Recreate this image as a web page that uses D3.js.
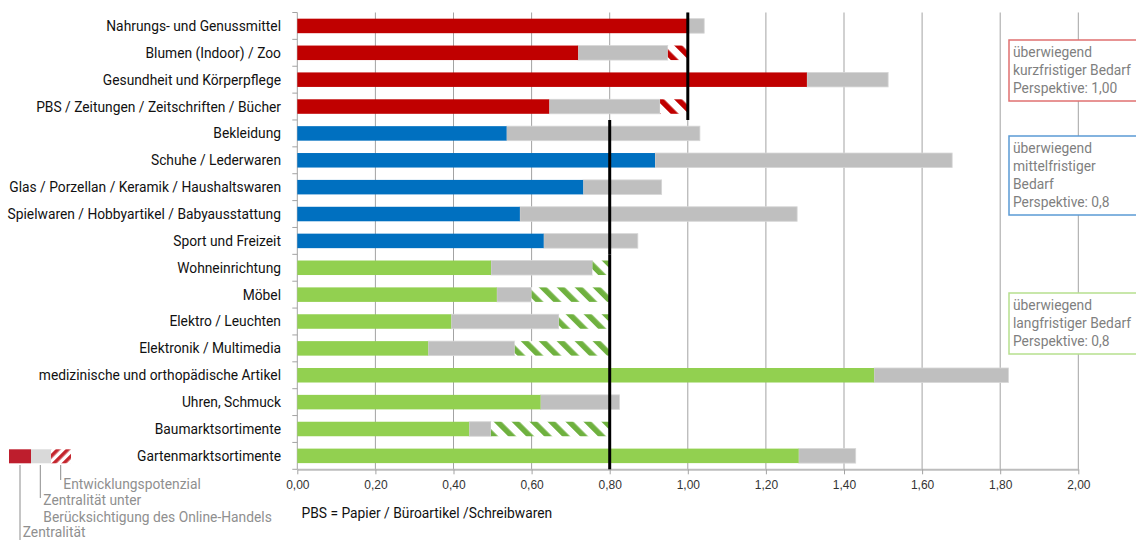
<!DOCTYPE html>
<html>
<head>
<meta charset="utf-8">
<script src="https://cdn.jsdelivr.net/npm/d3@7"></script>
<style>
  body { margin: 0; background: #fff; }
  text { font-family: Roboto, "Liberation Sans", sans-serif; }
</style>
</head>
<body>
<div class="viz"></div>
<script>
const w = 1136;
const h = 540;

// data
const categories = [
    "Nahrungs- und Genussmittel",
    "Blumen (Indoor) / Zoo",
    "Gesundheit und Körperpflege",
    "PBS / Zeitungen / Zeitschriften / Bücher",
    "Bekleidung",
    "Schuhe / Lederwaren",
    "Glas / Porzellan / Keramik / Haushaltswaren ",
    "Spielwaren / Hobbyartikel / Babyausstattung",
    "Sport und Freizeit",
    "Wohneinrichtung",
    "Möbel",
    "Elektro / Leuchten",
    "Elektronik / Multimedia",
    "medizinische und orthopädische Artikel",
    "Uhren, Schmuck",
    "Baumarktsortimente",
    "Gartenmarktsortimente"
];
const bedarf = ["kurz", "kurz", "kurz", "kurz",
    "mittel", "mittel", "mittel", "mittel", "mittel",
    "lang", "lang", "lang", "lang", "lang", "lang", "lang", "lang"];
const zentralitaet = [1.00, 0.719, 1.305, 0.645, 0.536, 0.916, 0.732, 0.570, 0.631,
    0.496, 0.511, 0.394, 0.335, 1.477, 0.623, 0.440, 1.284];
const zentralitaetOnline = [1.042, 0.949, 1.513, 0.929, 1.031, 1.677, 0.933, 1.280, 0.872,
    0.756, 0.600, 0.670, 0.557, 1.821, 0.825, 0.496, 1.430];
const groups = ["kurz", "mittel", "lang"];
const perspektive = [1.00, 0.8, 0.8];
const groupColors = ["#C00000", "#0070C0", "#92D050"];
const hatchColors = ["#C00000", "#0070C0", "#6FB13F"];
const groupNotes = [
    ["überwiegend", "kurzfristiger Bedarf", "Perspektive: 1,00"],
    ["überwiegend", "mittelfristiger", "Bedarf", "Perspektive: 0,8"],
    ["überwiegend", "langfristiger Bedarf", "Perspektive: 0,8"]
];
const xTicks = [0, 0.2, 0.4, 0.6, 0.8, 1.0, 1.2, 1.4, 1.6, 1.8, 2.0];
const legendLabels = ["Zentralität", "Zentralität unter|Berücksichtigung des Online-Handels", "Entwicklungspotenzial"];
const footnote = "PBS = Papier / Büroartikel /Schreibwaren";

const svg = d3.select(".viz")
    .append("svg")
    .attr("width", w)
    .attr("height", h);

const x = d3.scaleLinear().domain([0, 2]).range([297.3, 1078.3]);
const y = d3.scaleBand()
    .domain(categories)
    .range([12.5, 469.3])
    .paddingInner(0.46)
    .paddingOuter(0.23);
const step = y.step();
const yTop = 12.5, yBottom = 469.3;
const fontSize = "13.8px";

const groupIndex = d => groups.indexOf(d);
const fmt = v => d3.format(".2f")(v).replace(".", ",");

// hatch patterns
const defs = svg.append("defs");
groups.forEach(function (g, i) {
    const p = defs.append("pattern")
        .attr("id", "hatch-" + g)
        .attr("patternUnits", "userSpaceOnUse")
        .attr("width", 12.7)
        .attr("height", 12.7)
        .attr("patternTransform", "rotate(-45)");
    p.append("rect").attr("width", 12.7).attr("height", 12.7).attr("fill", "#fff");
    p.append("rect").attr("width", 5.6).attr("height", 12.7).attr("fill", hatchColors[i]);
});
const lp = defs.append("pattern")
    .attr("id", "hatch-legend")
    .attr("patternUnits", "userSpaceOnUse")
    .attr("width", 7)
    .attr("height", 7)
    .attr("patternTransform", "rotate(45)");
lp.append("rect").attr("width", 7).attr("height", 7).attr("fill", "#fff");
lp.append("rect").attr("width", 3.6).attr("height", 7).attr("fill", "#C4262E");

// gridlines
svg.append("g")
    .selectAll("line")
    .data(xTicks.slice(1))
    .enter()
    .append("line")
    .attr("x1", d => x(d))
    .attr("x2", d => x(d))
    .attr("y1", yTop)
    .attr("y2", yBottom)
    .style("stroke", "#a3a3a3")
    .style("stroke-width", 1);

// bottom axis
const xAxis = svg.append("g")
    .attr("transform", "translate(0," + yBottom + ")")
    .call(d3.axisBottom(x).tickValues(xTicks).tickFormat(fmt).tickSize(5).tickSizeOuter(0));
xAxis.select(".domain").style("stroke", "#bdbdbd").style("stroke-width", 2);
xAxis.selectAll(".tick line").style("stroke", "#a3a3a3");
xAxis.selectAll(".tick text")
    .attr("y", 11)
    .style("font-family", "'Liberation Sans', Arial, sans-serif")
    .style("font-size", "12px")
    .style("fill", "#333");

// left axis line with band ticks
svg.append("line")
    .attr("x1", x(0)).attr("x2", x(0))
    .attr("y1", yTop).attr("y2", yBottom)
    .style("stroke", "#a3a3a3");
svg.append("g")
    .selectAll("line")
    .data(d3.range(categories.length + 1))
    .enter()
    .append("line")
    .attr("x1", x(0) - 5)
    .attr("x2", x(0))
    .attr("y1", i => yTop + i * step)
    .attr("y2", i => yTop + i * step)
    .style("stroke", "#a3a3a3");

// rows
const rows = categories.map(function (c, i) {
    const gi = groupIndex(bedarf[i]);
    return {
        name: c,
        g: bedarf[i],
        gi: gi,
        z: zentralitaet[i],
        zo: zentralitaetOnline[i],
        p: perspektive[gi]
    };
});

svg.append("g")
    .selectAll("rect")
    .data(rows)
    .enter()
    .append("rect")
    .attr("x", d => x(d.z))
    .attr("y", d => y(d.name))
    .attr("width", d => Math.max(0, x(d.zo) - x(d.z)))
    .attr("height", y.bandwidth())
    .style("fill", "#BFBFBF")
    .style("stroke", "#d6d6d6")
    .style("stroke-width", 0.8);

svg.append("g")
    .selectAll("rect")
    .data(rows.filter(d => d.zo < d.p))
    .enter()
    .append("rect")
    .attr("x", d => x(d.zo))
    .attr("y", d => y(d.name))
    .attr("width", d => x(d.p) - x(d.zo))
    .attr("height", y.bandwidth())
    .style("fill", d => "url(#hatch-" + d.g + ")");

svg.append("g")
    .selectAll("rect")
    .data(rows)
    .enter()
    .append("rect")
    .attr("x", x(0))
    .attr("y", d => y(d.name))
    .attr("width", d => x(d.z) - x(0))
    .attr("height", y.bandwidth())
    .style("fill", d => groupColors[d.gi]);

// category labels
svg.append("g")
    .selectAll("text")
    .data(rows)
    .enter()
    .append("text")
    .attr("x", 281)
    .attr("y", d => y(d.name) + y.bandwidth() / 2)
    .attr("dy", "0.36em")
    .attr("text-anchor", "end")
    .style("font-size", fontSize)
    .style("fill", "#111")
    .text(d => d.name);

// perspective lines per group
groups.forEach(function (g, gi) {
    const idx = rows.filter(d => d.g === g).map(d => categories.indexOf(d.name));
    svg.append("line")
        .attr("x1", x(perspektive[gi]))
        .attr("x2", x(perspektive[gi]))
        .attr("y1", yTop + d3.min(idx) * step)
        .attr("y2", yTop + (d3.max(idx) + 1) * step)
        .style("stroke", "#000")
        .style("stroke-width", 3);
});

// note boxes
const boxTop = [40, 136, 293];
const boxStroke = ["#E07070", "#5B9BD5", "#B6E08E"];
groupNotes.forEach(function (lines, i) {
    const bh = lines.length * 18 + 7;
    svg.append("rect")
        .attr("x", 1009)
        .attr("y", boxTop[i])
        .attr("width", 140)
        .attr("height", bh)
        .style("fill", "#fff")
        .style("stroke", boxStroke[i])
        .style("stroke-width", 1.5);
    svg.append("g")
        .selectAll("text")
        .data(lines)
        .enter()
        .append("text")
        .attr("x", 1013)
        .attr("y", (d, j) => boxTop[i] + 17 + j * 18)
        .style("font-size", fontSize)
        .style("fill", "#7f7f7f")
        .text(d => d);
});

// legend
const legend = svg.append("g");
legend.append("rect").attr("x", 9).attr("y", 449.3).attr("width", 22).attr("height", 14).style("fill", "#BE1E2D");
legend.append("rect").attr("x", 31).attr("y", 449.3).attr("width", 20).attr("height", 14).style("fill", "#D9D9D9");
legend.append("rect").attr("x", 51).attr("y", 449.3).attr("width", 20).attr("height", 14).style("fill", "url(#hatch-legend)");

const legendItems = [
    { lx: 20, y2: 540, tx: 22.7, ty: 536.5, label: legendLabels[0] },
    { lx: 40.3, y2: 498, tx: 43.3, ty: 505, label: legendLabels[1] },
    { lx: 60.7, y2: 480, tx: 63.3, ty: 489, label: legendLabels[2] }
];
legendItems.forEach(function (it) {
    legend.append("line")
        .attr("x1", it.lx).attr("x2", it.lx)
        .attr("y1", 465).attr("y2", it.y2)
        .style("stroke", "#8c8c8c");
    it.label.split("|").forEach(function (t, j) {
        legend.append("text")
            .attr("x", it.tx)
            .attr("y", it.ty + j * 17)
            .style("font-size", fontSize)
            .style("fill", "#8f8f8f")
            .text(t);
    });
});

svg.append("text")
    .attr("x", 301.5)
    .attr("y", 518)
    .style("font-size", fontSize)
    .style("fill", "#111")
    .text(footnote);
</script>
</body>
</html>
